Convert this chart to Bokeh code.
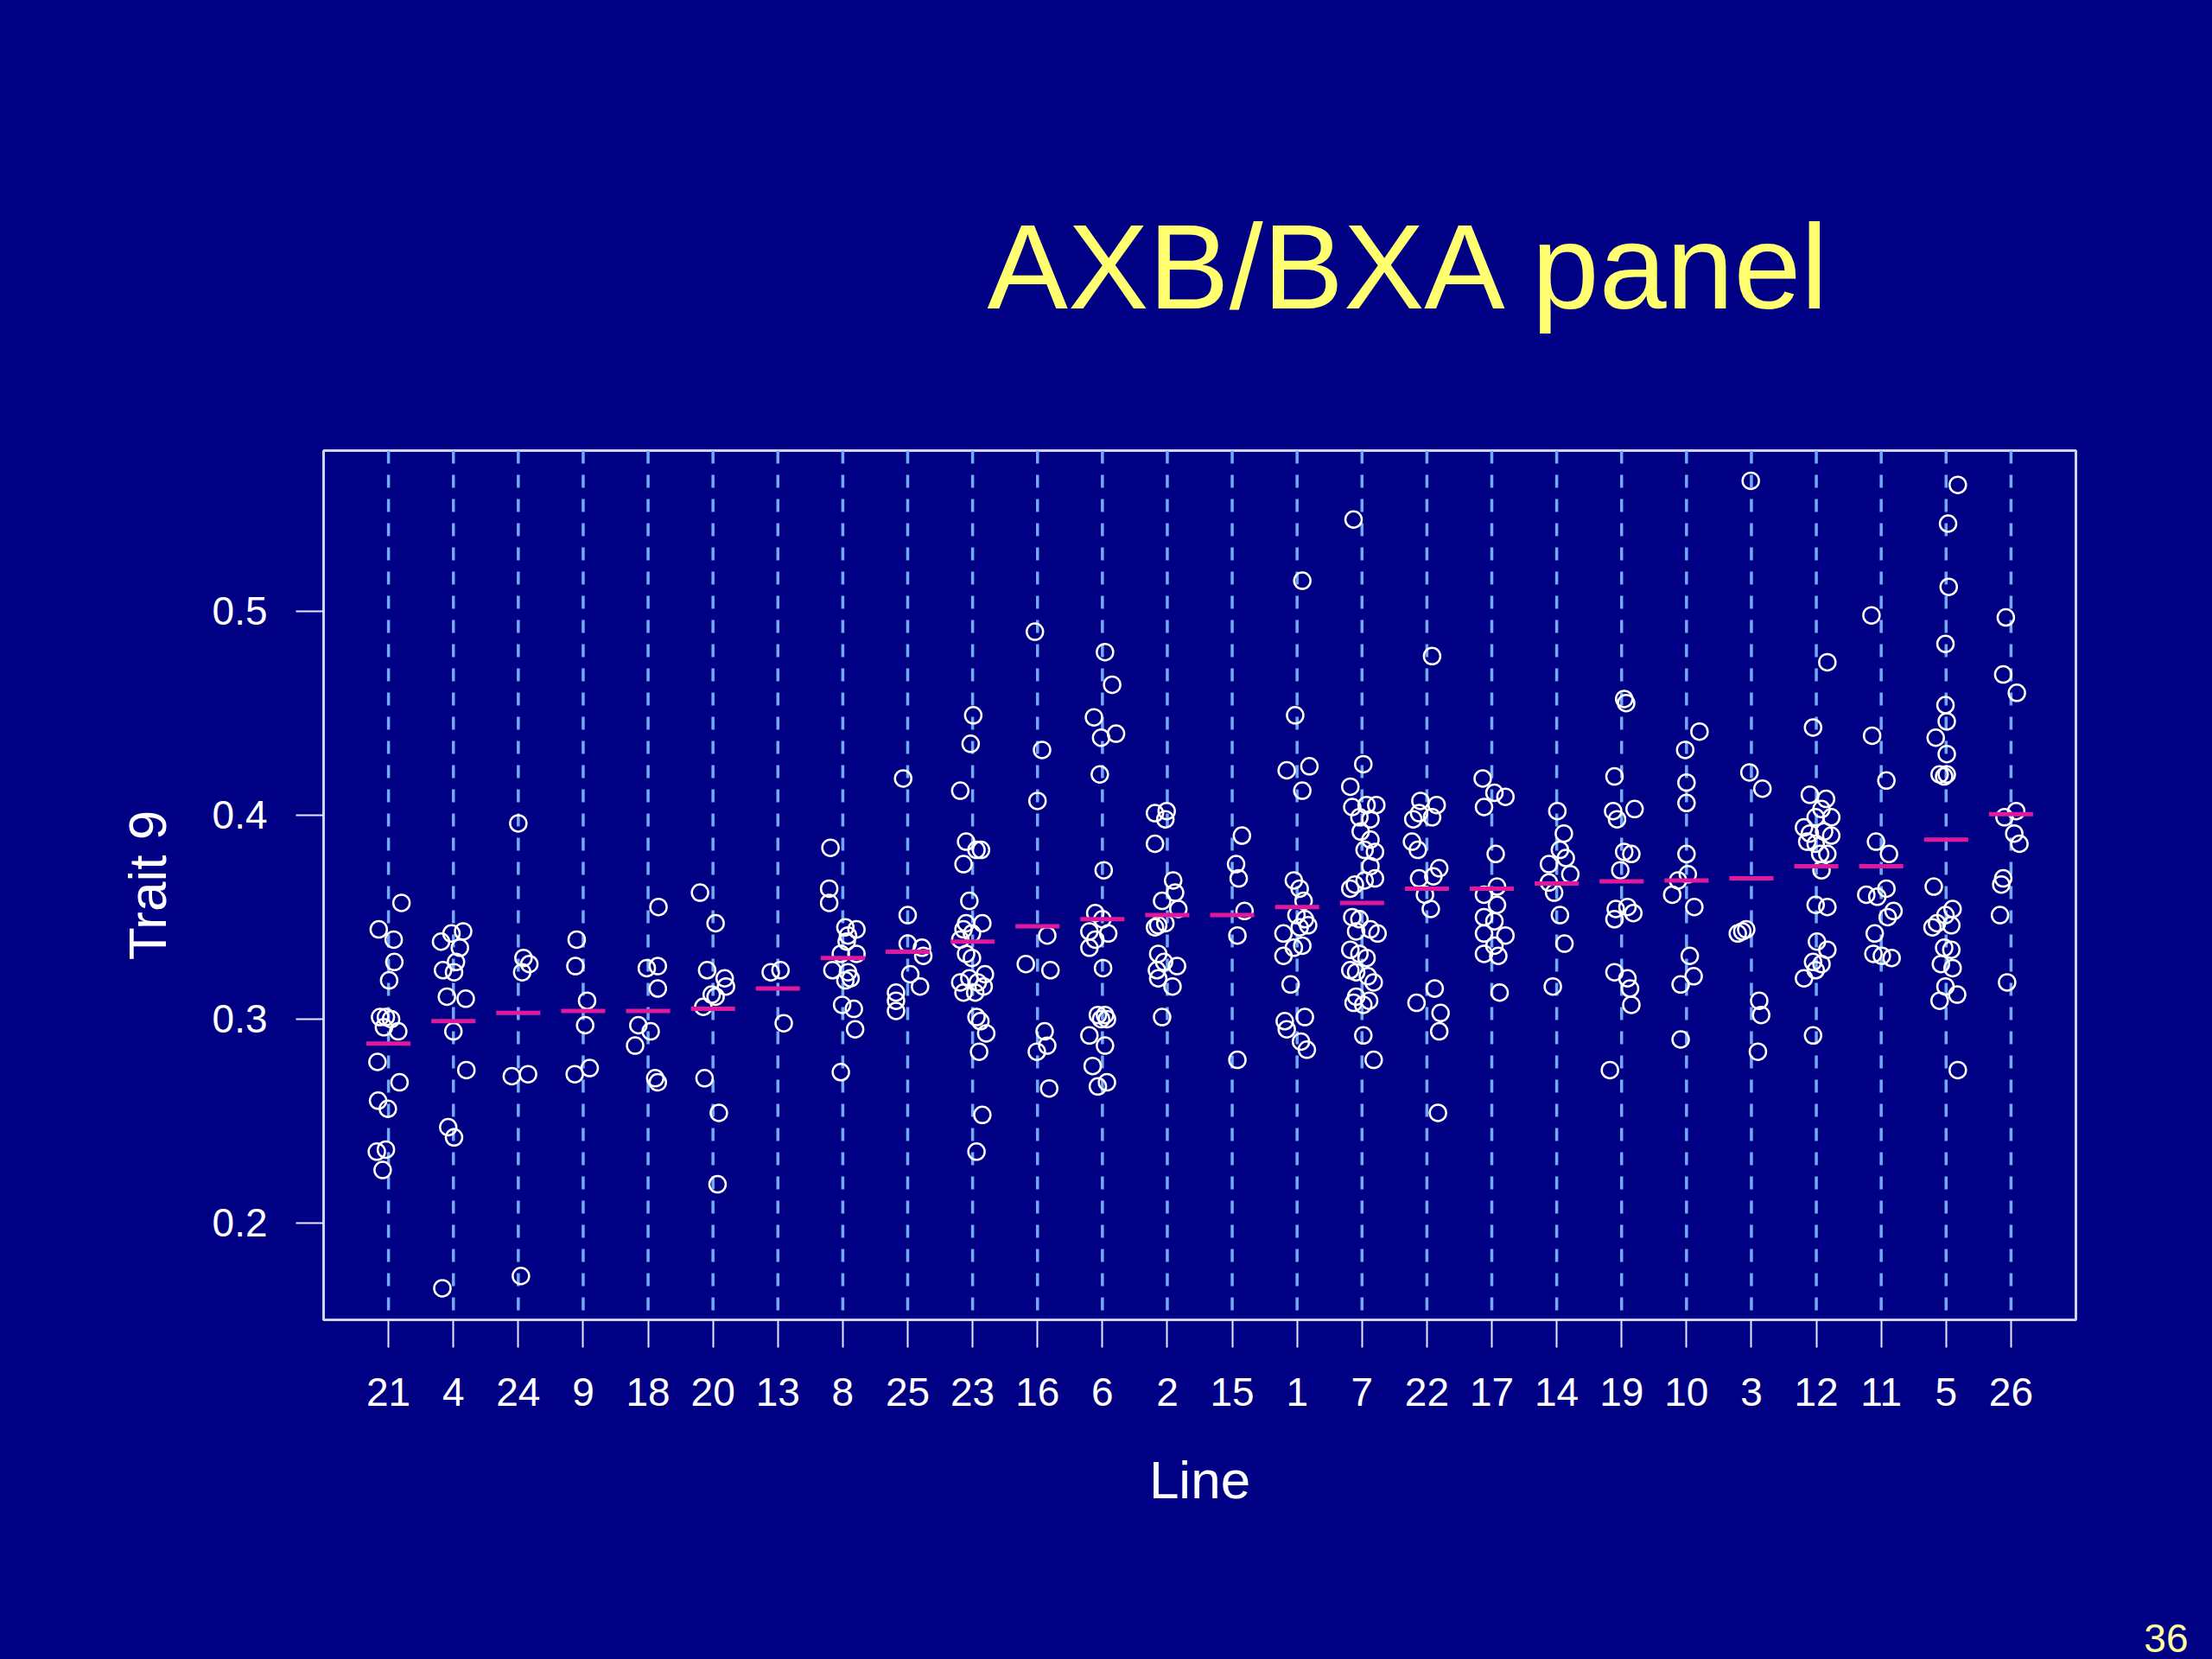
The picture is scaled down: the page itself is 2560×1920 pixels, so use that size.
from bokeh.plotting import figure
from bokeh.layouts import column
from bokeh.models import Range1d, FixedTicker, Label, PrintfTickFormatter
from bokeh.embed import file_html
from bokeh.resources import INLINE

# ---------------- data ----------------
lines = ["21", "4", "24", "9", "18", "20", "13", "8", "25", "23", "16", "6", "2",
         "15", "1", "7", "22", "17", "14", "19", "10", "3", "12", "11", "5", "26"]

means = [0.288, 0.299, 0.303, 0.304, 0.304, 0.305, 0.315, 0.330, 0.333, 0.338,
         0.3455, 0.349, 0.351, 0.351, 0.355, 0.357, 0.364, 0.364, 0.3665, 0.3676,
         0.368, 0.369, 0.375, 0.375, 0.388, 0.4005]

y_21 = [0.357, 0.344, 0.339, 0.328, 0.319, 0.301, 0.301, 0.300, 0.296, 0.294, 0.279, 0.269, 0.260, 0.256, 0.235, 0.236, 0.226]
dx_21 = [0.20, -0.15, 0.08, 0.09, 0.01, -0.13, -0.04, 0.04, -0.07, 0.15, -0.17, 0.17, -0.16, -0.01, -0.18, -0.04, -0.09]

y_4 = [0.338, 0.342, 0.343, 0.335, 0.324, 0.328, 0.323, 0.311, 0.310, 0.294, 0.275, 0.247, 0.242, 0.168]
dx_4 = [-0.19, -0.03, 0.15, 0.10, -0.16, 0.04, 0.01, -0.10, 0.19, 0.00, 0.20, -0.08, 0.01, -0.17]

y_24 = [0.396, 0.330, 0.327, 0.323, 0.272, 0.273, 0.174]
dx_24 = [0.00, 0.08, 0.17, 0.06, -0.10, 0.15, 0.04]

y_9 = [0.339, 0.326, 0.309, 0.297, 0.273, 0.276]
dx_9 = [-0.10, -0.12, 0.06, 0.03, -0.13, 0.10]

y_18 = [0.355, 0.325, 0.326, 0.315, 0.297, 0.294, 0.287, 0.269, 0.271]
dx_18 = [0.16, -0.02, 0.15, 0.15, -0.15, 0.04, -0.20, 0.15, 0.11]

y_20 = [0.362, 0.347, 0.324, 0.320, 0.316, 0.311, 0.312, 0.306, 0.271, 0.254, 0.219]
dx_20 = [-0.20, 0.04, -0.09, 0.18, 0.20, 0.04, -0.02, -0.15, -0.13, 0.09, 0.07]

y_13 = [0.323, 0.324, 0.298]
dx_13 = [-0.11, 0.04, 0.09]

y_8 = [0.384, 0.364, 0.357, 0.345, 0.344, 0.341, 0.338, 0.332, 0.332, 0.324, 0.323, 0.319, 0.320, 0.307, 0.305, 0.295, 0.274]
dx_8 = [-0.19, -0.21, -0.21, 0.04, 0.21, 0.08, 0.06, 0.21, -0.03, -0.16, 0.08, 0.04, 0.12, -0.01, 0.17, 0.19, -0.03]

y_25 = [0.418, 0.351, 0.337, 0.335, 0.331, 0.322, 0.316, 0.313, 0.309, 0.304]
dx_25 = [-0.07, 0.00, 0.00, 0.22, 0.24, 0.04, 0.19, -0.18, -0.18, -0.18]

y_23 = [0.449, 0.435, 0.412, 0.387, 0.383, 0.383, 0.376, 0.358, 0.347, 0.347, 0.344, 0.342, 0.339, 0.332,
        0.330, 0.318, 0.320, 0.318, 0.322, 0.313, 0.313, 0.316, 0.301, 0.299, 0.293, 0.284, 0.253, 0.235]
dx_23 = [0.01, -0.03, -0.19, -0.10, 0.13, 0.06, -0.14, -0.05, -0.10, 0.15, -0.14, -0.01, -0.19, -0.10,
         -0.01, -0.19, -0.05, 0.08, 0.19, -0.14, 0.04, 0.17, 0.06, 0.12, 0.21, 0.10, 0.15, 0.06]

y_16 = [0.490, 0.432, 0.407, 0.341, 0.327, 0.324, 0.294, 0.287, 0.284, 0.266]
dx_16 = [-0.04, 0.07, 0.00, 0.15, -0.18, 0.20, 0.11, 0.15, -0.01, 0.18]

y_6 = [0.480, 0.464, 0.448, 0.438, 0.440, 0.420, 0.373, 0.352, 0.349, 0.343, 0.342, 0.339, 0.335, 0.325,
       0.302, 0.302, 0.300, 0.300, 0.292, 0.287, 0.277, 0.267, 0.269]
dx_6 = [0.04, 0.15, -0.13, -0.02, 0.21, -0.04, 0.02, -0.11, 0.00, -0.20, 0.09, -0.11, -0.20, 0.01,
        -0.07, 0.04, -0.02, 0.07, -0.20, 0.04, -0.15, -0.07, 0.07]

y_2 = [0.401, 0.402, 0.398, 0.386, 0.368, 0.362, 0.358, 0.354, 0.346, 0.347, 0.345, 0.332, 0.328, 0.326,
       0.324, 0.320, 0.316, 0.301]
dx_2 = [-0.19, -0.01, -0.03, -0.19, 0.09, 0.12, -0.08, 0.17, -0.14, -0.03, -0.19, -0.14, -0.05, 0.15,
        -0.16, -0.14, 0.08, -0.08]

y_15 = [0.390, 0.376, 0.369, 0.353, 0.341, 0.280]
dx_15 = [0.15, 0.06, 0.10, 0.19, 0.08, 0.08]

y_1 = [0.515, 0.449, 0.422, 0.424, 0.412, 0.368, 0.364, 0.358, 0.351, 0.349, 0.346, 0.345, 0.342, 0.336,
       0.335, 0.331, 0.317, 0.299, 0.301, 0.295, 0.289, 0.285]
dx_1 = [0.08, -0.03, -0.16, 0.19, 0.08, -0.05, 0.04, 0.10, -0.01, 0.12, 0.17, 0.04, -0.21, 0.08,
        -0.05, -0.21, -0.10, -0.19, 0.12, -0.16, 0.06, 0.15]

y_7 = [0.545, 0.425, 0.414, 0.404, 0.405, 0.405, 0.399, 0.398, 0.392, 0.388, 0.382, 0.383, 0.375, 0.369,
       0.368, 0.366, 0.364, 0.350, 0.349, 0.343, 0.344, 0.342, 0.334, 0.332, 0.330, 0.324, 0.323, 0.321,
       0.318, 0.308, 0.307, 0.309, 0.311, 0.292, 0.280]
dx_7 = [-0.13, 0.02, -0.18, -0.15, 0.07, 0.22, -0.04, 0.13, -0.02, 0.13, 0.20, 0.04, 0.13, 0.20,
        0.04, -0.11, -0.18, -0.15, -0.04, -0.09, 0.13, 0.24, -0.18, -0.04, 0.07, -0.18, -0.09, 0.09,
        0.18, -0.13, 0.02, 0.11, -0.09, 0.02, 0.18]

y_22 = [0.478, 0.407, 0.405, 0.401, 0.399, 0.398, 0.387, 0.383, 0.374, 0.370, 0.369, 0.361, 0.354, 0.315,
        0.308, 0.303, 0.294, 0.254]
dx_22 = [0.08, -0.10, 0.15, -0.12, 0.08, -0.21, -0.23, -0.14, 0.19, 0.10, -0.12, -0.03, 0.06, 0.12,
         -0.16, 0.21, 0.19, 0.17]

y_17 = [0.418, 0.411, 0.409, 0.404, 0.381, 0.365, 0.361, 0.356, 0.350, 0.348, 0.341, 0.342, 0.336, 0.332,
        0.331, 0.313]
dx_17 = [-0.14, 0.04, 0.21, -0.12, 0.06, 0.08, -0.12, 0.08, -0.12, 0.04, 0.21, -0.12, 0.04, -0.12,
         0.10, 0.12]

y_14 = [0.402, 0.391, 0.383, 0.379, 0.376, 0.371, 0.367, 0.362, 0.351, 0.337, 0.316]
dx_14 = [0.01, 0.11, 0.05, 0.14, -0.12, 0.21, -0.12, -0.04, 0.05, 0.12, -0.06]

y_19 = [0.457, 0.455, 0.419, 0.402, 0.403, 0.398, 0.382, 0.381, 0.373, 0.354, 0.355, 0.352, 0.349, 0.323,
        0.320, 0.315, 0.307, 0.275]
dx_19 = [0.04, 0.07, -0.11, -0.13, 0.20, -0.07, 0.04, 0.15, -0.02, -0.09, 0.09, 0.18, -0.11, -0.11,
         0.09, 0.13, 0.15, -0.18]

y_10 = [0.441, 0.432, 0.416, 0.406, 0.381, 0.371, 0.368, 0.361, 0.355, 0.331, 0.321, 0.317, 0.290]
dx_10 = [0.20, -0.02, 0.00, 0.00, 0.00, 0.02, -0.13, -0.22, 0.12, 0.05, 0.11, -0.09, -0.09]

y_3 = [0.564, 0.421, 0.413, 0.342, 0.343, 0.344, 0.309, 0.302, 0.284]
dx_3 = [-0.01, -0.03, 0.17, -0.21, -0.14, -0.08, 0.12, 0.15, 0.10]

y_12 = [0.475, 0.443, 0.410, 0.408, 0.403, 0.399, 0.399, 0.394, 0.391, 0.392, 0.390, 0.387, 0.386, 0.381,
        0.381, 0.373, 0.356, 0.355, 0.338, 0.334, 0.328, 0.327, 0.324, 0.320, 0.292]
dx_12 = [0.17, -0.05, -0.10, 0.15, 0.08, 0.23, -0.01, -0.19, -0.10, 0.12, 0.23, -0.14, -0.01, 0.06,
         0.17, 0.08, -0.01, 0.17, 0.01, 0.17, -0.05, 0.08, -0.01, -0.19, -0.05]

y_11 = [0.498, 0.439, 0.417, 0.387, 0.381, 0.364, 0.361, 0.360, 0.353, 0.350, 0.342, 0.332, 0.331, 0.330]
dx_11 = [-0.15, -0.14, 0.08, -0.08, 0.12, 0.08, -0.23, -0.06, 0.19, 0.10, -0.10, -0.12, 0.01, 0.16]

y_5 = [0.562, 0.543, 0.512, 0.484, 0.454, 0.446, 0.438, 0.430, 0.420, 0.419, 0.420, 0.365, 0.354, 0.351,
       0.347, 0.346, 0.345, 0.335, 0.334, 0.327, 0.325, 0.316, 0.312, 0.309, 0.275]
dx_5 = [0.18, 0.03, 0.04, -0.01, -0.01, 0.01, -0.16, 0.01, -0.10, -0.03, 0.01, -0.19, 0.10, -0.01,
        -0.14, 0.08, -0.21, -0.03, 0.08, -0.08, 0.10, -0.01, 0.17, -0.10, 0.18]

y_26 = [0.497, 0.469, 0.460, 0.402, 0.399, 0.391, 0.386, 0.369, 0.366, 0.351, 0.318]
dx_26 = [-0.08, -0.12, 0.09, 0.08, -0.10, 0.05, 0.13, -0.12, -0.15, -0.17, -0.06]

values = [y_21, y_4, y_24, y_9, y_18, y_20, y_13, y_8, y_25, y_23, y_16, y_6, y_2,
          y_15, y_1, y_7, y_22, y_17, y_14, y_19, y_10, y_3, y_12, y_11, y_5, y_26]
jitter = [dx_21, dx_4, dx_24, dx_9, dx_18, dx_20, dx_13, dx_8, dx_25, dx_23, dx_16, dx_6, dx_2,
          dx_15, dx_1, dx_7, dx_22, dx_17, dx_14, dx_19, dx_10, dx_3, dx_12, dx_11, dx_5, dx_26]

y_ticks = [0.2, 0.3, 0.4, 0.5]

title_text = "AXB/BXA panel"
page_text = "36"

# ---------------- build ----------------
BG = "#000084"
FONT = "Liberation Sans"
W = 2560
H_TOP, H_MAIN, H_FOOT = 400, 1440, 80
HOST_STYLE = {"background-color": BG}


def blank_fig(h):
    f = figure(width=W, height=h, output_backend="svg", toolbar_location=None,
               x_range=Range1d(0, W), y_range=Range1d(0, h),
               x_axis_type=None, y_axis_type=None, min_border=0, frame_align=False,
               styles=HOST_STYLE)
    f.background_fill_color = BG
    f.border_fill_color = BG
    f.outline_line_color = None
    f.xgrid.visible = False
    f.ygrid.visible = False
    return f


# slide title
top = blank_fig(H_TOP)
top.add_layout(Label(x=1142, y=92, text=title_text, text_color="#FFFF70",
                     text_font=FONT, text_font_size="140px", text_baseline="alphabetic",
                     text_align="left"))

# main chart
pos = list(range(1, len(lines) + 1))
xs, ys = [], []
for i, (vals, dxs) in enumerate(zip(values, jitter)):
    for v, d in zip(vals, dxs):
        xs.append(pos[i] + d)
        ys.append(v)

y_lo, y_hi = 0.1525, 0.5788
p = figure(width=W, height=H_MAIN, output_backend="svg", toolbar_location=None,
           x_range=Range1d(0, len(lines) + 1), y_range=Range1d(y_lo, y_hi),
           min_border_left=374, min_border_right=158, min_border_top=121, min_border_bottom=313,
           frame_align=False, styles=HOST_STYLE)

p.background_fill_color = BG
p.border_fill_color = BG
p.outline_line_color = "#D2D2FF"
p.outline_line_width = 3
p.xgrid.visible = False
p.ygrid.visible = False

p.segment(x0=pos, x1=pos, y0=[y_hi] * len(pos), y1=[y_lo] * len(pos),
          line_color="#72AAF8", line_width=3.5, line_dash="15 13")

p.scatter(x=xs, y=ys, marker="circle", size=19, fill_color=None,
          line_color="white", line_width=2.5)

p.segment(x0=[x - 0.34 for x in pos], x1=[x + 0.34 for x in pos], y0=means, y1=means,
          line_color="#E0189C", line_width=5)

xa = p.xaxis[0]
xa.ticker = FixedTicker(ticks=pos)
xa.major_label_overrides = {x: lab for x, lab in zip(pos, lines)}
ya = p.yaxis[0]
ya.ticker = FixedTicker(ticks=y_ticks)
ya.formatter = PrintfTickFormatter(format="%.1f")

for ax in (xa, ya):
    ax.axis_line_color = None
    ax.major_tick_line_color = "#E8E8FF"
    ax.major_tick_line_width = 2
    ax.major_tick_in = 0
    ax.major_tick_out = 32
    ax.minor_tick_line_color = None
    ax.major_label_text_color = "white"
    ax.major_label_text_font = FONT
    ax.major_label_text_font_size = "46px"
    ax.axis_label_text_color = "white"
    ax.axis_label_text_font = FONT
    ax.axis_label_text_font_size = "62px"
    ax.axis_label_text_font_style = "normal"

xa.axis_label = "Line"
xa.major_label_standoff = 35
xa.axis_label_standoff = 48
ya.axis_label = "Trait 9"
ya.major_label_standoff = 33
ya.axis_label_standoff = 38

# footer with page number
foot = blank_fig(H_FOOT)
foot.add_layout(Label(x=2532, y=25, text=page_text, text_color="#FFFFA0",
                      text_font=FONT, text_font_size="46px", text_baseline="alphabetic",
                      text_align="right"))

layout = column(top, p, foot, spacing=0, styles=HOST_STYLE)
html = file_html(layout, INLINE, title=title_text)
html = html.replace("<head>", "<head><style>html, body { background-color: #000084; }</style>", 1)
html = html.replace("<body", '<body style="background-color:#000084"', 1)
open("out.html", "w").write(html)
